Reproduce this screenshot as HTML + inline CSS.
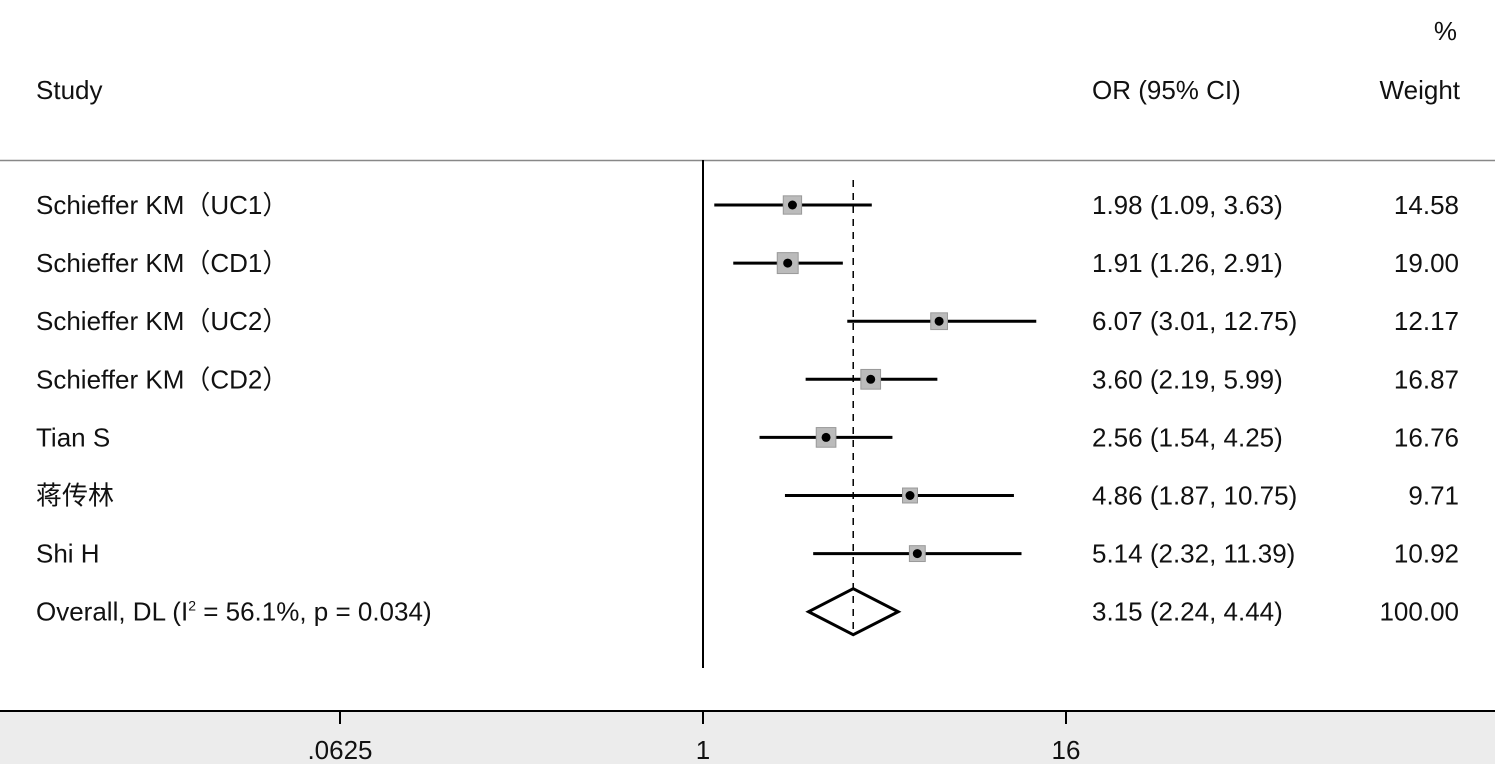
<!DOCTYPE html>
<html><head><meta charset="utf-8"><style>
body{margin:0;background:#fff;}
svg text{font-family:"Liberation Sans","Noto Sans CJK SC",sans-serif;font-size:26px;fill:#111;}
</style></head><body>
<svg width="1495" height="764" viewBox="0 0 1495 764">
<rect x="0" y="712" width="1495" height="52" fill="#ececec"/>
<text x="1457" y="40" text-anchor="end">%</text>
<text x="36" y="99">Study</text>
<text x="1092" y="99">OR (95% CI)</text>
<text x="1460" y="99" text-anchor="end">Weight</text>
<line x1="0" y1="160.5" x2="1495" y2="160.5" stroke="#888" stroke-width="1.5"/>
<line x1="703" y1="160" x2="703" y2="668" stroke="#000" stroke-width="2"/>
<line x1="0" y1="711" x2="1495" y2="711" stroke="#000" stroke-width="2"/>
<g id="plot"></g>
</svg>
<script>
const studies=["Schieffer KM\uFF08UC1\uFF09","Schieffer KM\uFF08CD1\uFF09","Schieffer KM\uFF08UC2\uFF09","Schieffer KM\uFF08CD2\uFF09","Tian S","蒋传林","Shi H"];
const ors=[1.98,1.91,6.07,3.60,2.56,4.86,5.14];
const lows=[1.09,1.26,3.01,2.19,1.54,1.87,2.32];
const highs=[3.63,2.91,12.75,5.99,4.25,10.75,11.39];
const weights=[14.58,19.00,12.17,16.87,16.76,9.71,10.92];
const overall=[3.15,2.24,4.44];
const tickVals=[0.0625,1,16];
const tickLabels=[".0625","1","16"];
const NS="http://www.w3.org/2000/svg";
const svg=document.querySelector('svg');
const g=document.getElementById('plot');
const xS=v=>703+Math.log2(v)*90.75;
const yS=i=>205+i*58.1;
function mk(t,a){const e=document.createElementNS(NS,t);for(const k in a)e.setAttribute(k,a[k]);g.appendChild(e);return e;}
// overall dashed line
let e=mk('line',{x1:xS(overall[0]),x2:xS(overall[0]),y1:180,y2:636,stroke:'#000','stroke-width':1.5,'stroke-dasharray':'7,6'});


studies.forEach((s,i)=>{
  const y=yS(i);
  let t=mk('text',{x:36,y:y+9});t.textContent=s;
  
  
  let l=mk('line',{x1:xS(lows[i]),x2:xS(highs[i]),y1:y,y2:y,stroke:'#000','stroke-width':3});
  
  
  const sz=Math.sqrt(weights[i])*4.8;
  let b=mk('rect',{x:xS(ors[i])-sz/2,y:y-sz/2,width:sz,height:sz,fill:'#bbb',stroke:'#999','stroke-width':1});
  
  
  let c=mk('circle',{cx:xS(ors[i]),cy:y,r:4.5,fill:'#000'});
  
  
  let o=mk('text',{x:1092,y:y+9});o.textContent=ors[i].toFixed(2)+" ("+lows[i].toFixed(2)+", "+highs[i].toFixed(2)+")";
  
  
  let w=mk('text',{x:1459,y:y+9,'text-anchor':'end'});w.textContent=weights[i].toFixed(2);
  
  
});
const oy=yS(7);
let ot=mk('text',{x:36,y:oy+9});ot.innerHTML='Overall, DL (I<tspan dy="-10" font-size="14">2</tspan><tspan dy="10"> = 56.1%, p = 0.034)</tspan>';


const d=[xS(overall[1])+','+oy, xS(overall[0])+','+(oy-23), xS(overall[2])+','+oy, xS(overall[0])+','+(oy+23)].join(' ');
let dm=mk('polygon',{points:d,fill:'none',stroke:'#000','stroke-width':3});


let oo=mk('text',{x:1092,y:oy+9});oo.textContent=overall[0].toFixed(2)+" ("+overall[1].toFixed(2)+", "+overall[2].toFixed(2)+")";


let ow=mk('text',{x:1459,y:oy+9,'text-anchor':'end'});ow.textContent="100.00";


tickVals.forEach((v,i)=>{
  let tk=mk('line',{x1:xS(v),x2:xS(v),y1:711,y2:724,stroke:'#000','stroke-width':2});
  
  
  let tl=mk('text',{x:xS(v),y:759,'text-anchor':'middle','font-size':24});tl.textContent=tickLabels[i];
  
  
});
</script>
</body></html>
